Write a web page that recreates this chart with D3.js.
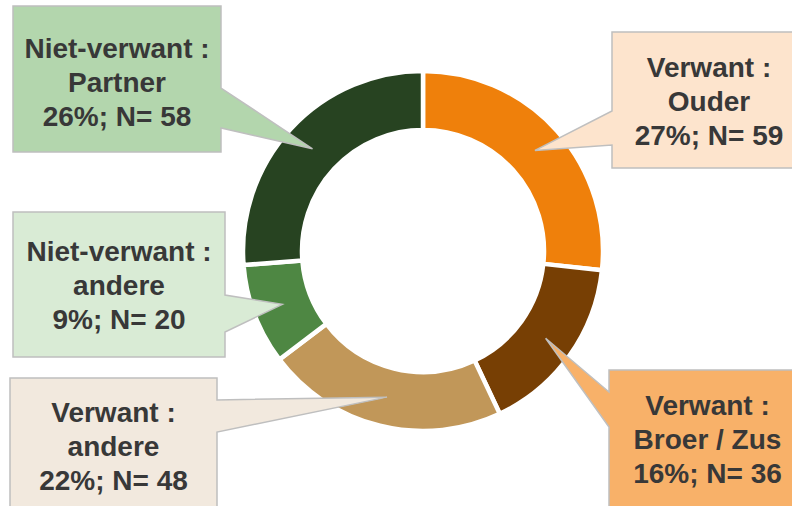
<!DOCTYPE html>
<html>
<head>
<meta charset="utf-8">
<script src="https://cdn.jsdelivr.net/npm/d3@7"></script>
<style>
  html, body { margin: 0; padding: 0; background: #ffffff; overflow: hidden; }
  svg { display: block; }
</style>
</head>
<body>
<svg id="chart" width="792" height="506"></svg>
<script>
// ---- data ----
const categories = ["Verwant : Ouder", "Verwant : Broer / Zus", "Verwant : andere", "Niet-verwant : andere", "Niet-verwant : Partner"];
const values = [59, 36, 48, 20, 58];
const percentLabels = ["27%", "16%", "22%", "9%", "26%"];
const labelLines = [
  ["Verwant :", "Ouder"],
  ["Verwant :", "Broer / Zus"],
  ["Verwant :", "andere"],
  ["Niet-verwant :", "andere"],
  ["Niet-verwant :", "Partner"]
];

// ---- styles / layout ----
const sliceColors = ["#ef800b", "#773f04", "#c19759", "#4e8743", "#274321"];
const boxFills = ["#fde4cd", "#f8b169", "#f2e9de", "#d9ebd5", "#b3d6ad"];
// box: [x0,y0,x1,y1], wedge side, wedge base [a,b], first text baseline
const boxes = [
  { r: [612, 32, 806, 168], side: "left",  base: [111, 145], y0: 77 },
  { r: [609, 370, 806, 530], side: "left", base: [392, 427], y0: 415 },
  { r: [10, 378, 217, 530], side: "right", base: [400, 432], y0: 422 },
  { r: [13, 212, 225, 357], side: "right", base: [295, 332], y0: 261 },
  { r: [13, 6, 221, 152], side: "right",  base: [88, 128],  y0: 58 }
];

const cx = 423, cy = 251, outerR = 180, innerR = 121;
const svg = d3.select("#chart");

const pie = d3.pie().sort(null).value(d => d);
const arcs = pie(values);
const arc = d3.arc().innerRadius(innerR).outerRadius(outerR);

const g = svg.append("g").attr("transform", `translate(${cx},${cy})`);
g.selectAll("path.slice")
  .data(arcs)
  .join("path")
  .attr("class", "slice")
  .attr("d", arc)
  .attr("fill", (d, i) => sliceColors[i])
  .attr("stroke", "#ffffff")
  .attr("stroke-width", 4.5)
  .attr("stroke-linejoin", "miter");

function calloutPath(b, tip) {
  const [x0, y0, x1, y1] = b.r;
  const [a, c] = b.base;
  const p = d3.path();
  if (b.side === "left") {
    p.moveTo(x0, y0);
    p.lineTo(x1, y0);
    p.lineTo(x1, y1);
    p.lineTo(x0, y1);
    p.lineTo(x0, c);
    p.lineTo(tip[0], tip[1]);
    p.lineTo(x0, a);
    p.closePath();
  } else {
    p.moveTo(x0, y0);
    p.lineTo(x1, y0);
    p.lineTo(x1, a);
    p.lineTo(tip[0], tip[1]);
    p.lineTo(x1, c);
    p.lineTo(x1, y1);
    p.lineTo(x0, y1);
    p.closePath();
  }
  return p.toString();
}

const lineGap = 34;
arcs.forEach((d, i) => {
  const c = arc.centroid(d);
  const tip = [cx + c[0], cy + c[1]];
  const b = boxes[i];
  svg.append("path")
    .attr("d", calloutPath(b, tip))
    .attr("fill", boxFills[i])
    .attr("stroke", "#bfbfbf")
    .attr("stroke-width", 1.5)
    .attr("stroke-linejoin", "miter");
  const tx = (b.r[0] + b.r[2]) / 2;
  const lines = labelLines[i].concat([`${percentLabels[i]}; N= ${values[i]}`]);
  const t = svg.append("text")
    .attr("text-anchor", "middle")
    .attr("font-family", "'Liberation Sans', Arial, sans-serif")
    .attr("font-weight", "bold")
    .attr("font-size", 28)
    .attr("fill", "#383838");
  lines.forEach((ln, k) => {
    t.append("tspan")
      .attr("x", tx)
      .attr("y", b.y0 + k * lineGap)
      .text(ln);
  });
});
</script>
</body>
</html>
